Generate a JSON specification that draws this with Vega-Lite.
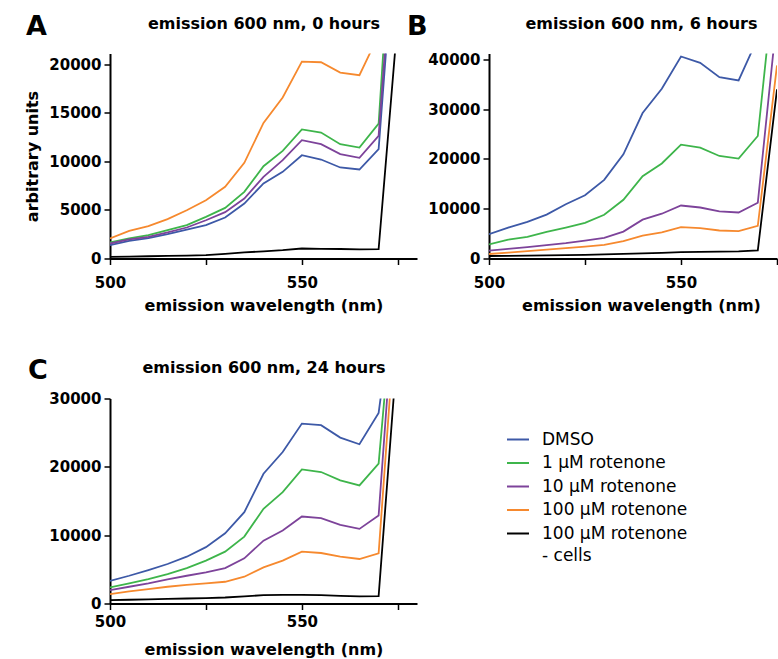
{
  "$schema": "https://vega.github.io/schema/vega-lite/v6.json",
  "padding": {"left": 24, "top": 12.5, "right": 0, "bottom": 0},
  "bounds": "flush",
  "columns": 2,
  "spacing": {"row": 140, "column": 72},
  "datasets": {
    "d": [
      {"p": "A", "wl": 500, "DMSO": 1370, "r1": 1650, "r10": 1540, "r100": 2060, "cells": 170},
      {"p": "A", "wl": 505, "DMSO": 1820, "r1": 2060, "r10": 1960, "r100": 2850, "cells": 200},
      {"p": "A", "wl": 510, "DMSO": 2090, "r1": 2400, "r10": 2230, "r100": 3330, "cells": 230},
      {"p": "A", "wl": 515, "DMSO": 2500, "r1": 2920, "r10": 2680, "r100": 4050, "cells": 260},
      {"p": "A", "wl": 520, "DMSO": 2980, "r1": 3430, "r10": 3190, "r100": 4970, "cells": 300},
      {"p": "A", "wl": 525, "DMSO": 3430, "r1": 4290, "r10": 3940, "r100": 6000, "cells": 340},
      {"p": "A", "wl": 530, "DMSO": 4220, "r1": 5210, "r10": 4770, "r100": 7380, "cells": 480},
      {"p": "A", "wl": 535, "DMSO": 5660, "r1": 6860, "r10": 6170, "r100": 9850, "cells": 620},
      {"p": "A", "wl": 540, "DMSO": 7720, "r1": 9500, "r10": 8400, "r100": 13960, "cells": 740},
      {"p": "A", "wl": 545, "DMSO": 8920, "r1": 11080, "r10": 10120, "r100": 16570, "cells": 860},
      {"p": "A", "wl": 550, "DMSO": 10630, "r1": 13280, "r10": 12180, "r100": 20270, "cells": 1030},
      {"p": "A", "wl": 555, "DMSO": 10190, "r1": 12970, "r10": 11770, "r100": 20200, "cells": 1000},
      {"p": "A", "wl": 560, "DMSO": 9370, "r1": 11770, "r10": 10740, "r100": 19140, "cells": 980},
      {"p": "A", "wl": 565, "DMSO": 9160, "r1": 11420, "r10": 10360, "r100": 18870, "cells": 930},
      {"p": "A", "wl": 570, "DMSO": 11250, "r1": 13890, "r10": 12620, "r100": 23000, "cells": 960},
      {"p": "A", "wl": 575, "DMSO": 37300, "r1": 44300, "r10": 39300, "r100": 60000, "cells": 24700},
      {"p": "B", "wl": 500, "DMSO": 4880, "r1": 2850, "r10": 1580, "r100": 900, "cells": 500},
      {"p": "B", "wl": 505, "DMSO": 6220, "r1": 3810, "r10": 1950, "r100": 1200, "cells": 540},
      {"p": "B", "wl": 510, "DMSO": 7360, "r1": 4350, "r10": 2300, "r100": 1500, "cells": 580},
      {"p": "B", "wl": 515, "DMSO": 8830, "r1": 5350, "r10": 2700, "r100": 1800, "cells": 620},
      {"p": "B", "wl": 520, "DMSO": 10900, "r1": 6220, "r10": 3100, "r100": 2100, "cells": 680},
      {"p": "B", "wl": 525, "DMSO": 12700, "r1": 7150, "r10": 3600, "r100": 2400, "cells": 740},
      {"p": "B", "wl": 530, "DMSO": 15800, "r1": 8800, "r10": 4150, "r100": 2750, "cells": 820},
      {"p": "B", "wl": 535, "DMSO": 20940, "r1": 11800, "r10": 5400, "r100": 3480, "cells": 920},
      {"p": "B", "wl": 540, "DMSO": 29230, "r1": 16550, "r10": 7800, "r100": 4620, "cells": 1050},
      {"p": "B", "wl": 545, "DMSO": 34110, "r1": 19100, "r10": 9000, "r100": 5230, "cells": 1150},
      {"p": "B", "wl": 550, "DMSO": 40600, "r1": 22880, "r10": 10650, "r100": 6300, "cells": 1300},
      {"p": "B", "wl": 555, "DMSO": 39330, "r1": 22270, "r10": 10250, "r100": 6100, "cells": 1350},
      {"p": "B", "wl": 560, "DMSO": 36450, "r1": 20600, "r10": 9450, "r100": 5630, "cells": 1400},
      {"p": "B", "wl": 565, "DMSO": 35790, "r1": 20070, "r10": 9250, "r100": 5500, "cells": 1450},
      {"p": "B", "wl": 570, "DMSO": 44300, "r1": 24620, "r10": 11200, "r100": 6570, "cells": 1650},
      {"p": "B", "wl": 575, "DMSO": 80000, "r1": 61400, "r10": 48700, "r100": 38800, "cells": 34000},
      {"p": "C", "wl": 500, "DMSO": 3300, "r1": 2350, "r10": 1960, "r100": 1370, "cells": 490},
      {"p": "C", "wl": 505, "DMSO": 4060, "r1": 2940, "r10": 2450, "r100": 1760, "cells": 550},
      {"p": "C", "wl": 510, "DMSO": 4890, "r1": 3570, "r10": 2940, "r100": 2100, "cells": 610},
      {"p": "C", "wl": 515, "DMSO": 5780, "r1": 4310, "r10": 3520, "r100": 2450, "cells": 670},
      {"p": "C", "wl": 520, "DMSO": 6850, "r1": 5190, "r10": 4060, "r100": 2740, "cells": 730},
      {"p": "C", "wl": 525, "DMSO": 8250, "r1": 6270, "r10": 4550, "r100": 2940, "cells": 800},
      {"p": "C", "wl": 530, "DMSO": 10280, "r1": 7590, "r10": 5190, "r100": 3180, "cells": 880},
      {"p": "C", "wl": 535, "DMSO": 13360, "r1": 9790, "r10": 6610, "r100": 3920, "cells": 1050},
      {"p": "C", "wl": 540, "DMSO": 18990, "r1": 13850, "r10": 9200, "r100": 5290, "cells": 1220},
      {"p": "C", "wl": 545, "DMSO": 22170, "r1": 16300, "r10": 10670, "r100": 6270, "cells": 1250},
      {"p": "C", "wl": 550, "DMSO": 26330, "r1": 19630, "r10": 12730, "r100": 7590, "cells": 1270},
      {"p": "C", "wl": 555, "DMSO": 26090, "r1": 19240, "r10": 12480, "r100": 7390, "cells": 1220},
      {"p": "C", "wl": 560, "DMSO": 24280, "r1": 18010, "r10": 11500, "r100": 6850, "cells": 1130},
      {"p": "C", "wl": 565, "DMSO": 23300, "r1": 17280, "r10": 10920, "r100": 6510, "cells": 1030},
      {"p": "C", "wl": 570, "DMSO": 27900, "r1": 20460, "r10": 12870, "r100": 7340, "cells": 1080},
      {"p": "C", "wl": 575, "DMSO": 48900, "r1": 52300, "r10": 51800, "r100": 46400, "cells": 38160}
    ]
  },
  "concat": [
    {
      "width": 307, "height": 205,
      "title": {"text": "A", "anchor": "start", "frame": "group", "fontSize": 27, "dx": -84, "offset": -25},
      "data": {"name": "d"},
      "transform": [{"filter": "datum.p == 'A'"}, {"fold": ["DMSO", "r1", "r10", "r100", "cells"], "as": ["series", "v"]}],
      "layer": [
        {
          "mark": {"type": "line", "clip": true, "strokeWidth": 1.8},
          "encoding": {
            "x": {"field": "wl", "type": "quantitative", "scale": {"domain": [500, 580], "nice": false, "zero": false},
                  "axis": {"values": [500, 525, 550, 575], "format": "d", "labelExpr": "datum.value % 50 == 0 ? datum.label : ''", "title": "emission wavelength (nm)", "labelPadding": 11, "titlePadding": 7}},
            "y": {"field": "v", "type": "quantitative", "scale": {"domain": [0, 21100], "nice": false},
                  "axis": {"values": [0, 5000, 10000, 15000, 20000], "format": "d", "title": "arbitrary units"}},
            "color": {"field": "series", "type": "nominal",
                      "scale": {"domain": ["DMSO", "r1", "r10", "r100", "cells"], "range": ["#3d59a7", "#3eb54b", "#7d439a", "#f6892e", "#000000"]},
                      "legend": {"orient": "none", "legendX": 396, "legendY": 374, "title": null,
                                 "encode": {"labels": {"update": {"lineHeight": {"value": 22}}}},
                                 "labelExpr": "datum.value == 'DMSO' ? 'DMSO' : datum.value == 'r1' ? '1 µM rotenone' : datum.value == 'r10' ? '10 µM rotenone' : datum.value == 'r100' ? '100 µM rotenone' : ['100 µM rotenone', '- cells']"}}
          }
        },
        {
          "mark": {"type": "line", "clip": true, "strokeOpacity": 0},
          "encoding": {
            "x": {"field": "wl", "type": "quantitative", "axis": {"orient": "top", "domain": false, "ticks": false, "labels": false, "title": "emission 600 nm, 0 hours", "titlePadding": 22, "titleFontSize": 16}},
            "y": {"field": "v", "type": "quantitative"}
          }
        }
      ],
      "resolve": {"axis": {"x": "independent"}}
    },
    {
      "width": 288, "height": 205,
      "title": {"text": "B", "anchor": "start", "frame": "group", "fontSize": 27, "dx": -82, "offset": -25},
      "data": {"name": "d"},
      "transform": [{"filter": "datum.p == 'B'"}, {"fold": ["DMSO", "r1", "r10", "r100", "cells"], "as": ["series", "v"]}],
      "layer": [
        {
          "mark": {"type": "line", "clip": true, "strokeWidth": 1.8},
          "encoding": {
            "x": {"field": "wl", "type": "quantitative", "scale": {"domain": [500, 575], "nice": false, "zero": false},
                  "axis": {"values": [500, 525, 550, 575], "format": "d", "labelExpr": "datum.value % 50 == 0 ? datum.label : ''", "title": "emission wavelength (nm)", "titleX": 152, "labelPadding": 11, "titlePadding": 7}},
            "y": {"field": "v", "type": "quantitative", "scale": {"domain": [0, 41200], "nice": false},
                  "axis": {"values": [0, 10000, 20000, 30000, 40000], "format": "d", "title": null}},
            "color": {"field": "series", "type": "nominal",
                      "scale": {"domain": ["DMSO", "r1", "r10", "r100", "cells"], "range": ["#3d59a7", "#3eb54b", "#7d439a", "#f6892e", "#000000"]},
                      "legend": {"orient": "none", "legendX": 396, "legendY": 374, "title": null,
                                 "encode": {"labels": {"update": {"lineHeight": {"value": 22}}}},
                                 "labelExpr": "datum.value == 'DMSO' ? 'DMSO' : datum.value == 'r1' ? '1 µM rotenone' : datum.value == 'r10' ? '10 µM rotenone' : datum.value == 'r100' ? '100 µM rotenone' : ['100 µM rotenone', '- cells']"}}
          }
        },
        {
          "mark": {"type": "line", "clip": true, "strokeOpacity": 0},
          "encoding": {
            "x": {"field": "wl", "type": "quantitative", "axis": {"orient": "top", "domain": false, "ticks": false, "labels": false, "title": "emission 600 nm, 6 hours", "titlePadding": 22, "titleFontSize": 16, "titleX": 152}},
            "y": {"field": "v", "type": "quantitative"}
          }
        }
      ],
      "resolve": {"axis": {"x": "independent"}}
    },
    {
      "width": 307, "height": 205,
      "title": {"text": "C", "anchor": "start", "frame": "group", "fontSize": 27, "dx": -82, "offset": -25},
      "data": {"name": "d"},
      "transform": [{"filter": "datum.p == 'C'"}, {"fold": ["DMSO", "r1", "r10", "r100", "cells"], "as": ["series", "v"]}],
      "layer": [
        {
          "mark": {"type": "line", "clip": true, "strokeWidth": 1.8},
          "encoding": {
            "x": {"field": "wl", "type": "quantitative", "scale": {"domain": [500, 580], "nice": false, "zero": false},
                  "axis": {"values": [500, 525, 550, 575], "format": "d", "labelExpr": "datum.value % 50 == 0 ? datum.label : ''", "title": "emission wavelength (nm)", "labelPadding": 5, "titlePadding": 12}},
            "y": {"field": "v", "type": "quantitative", "scale": {"domain": [0, 30000], "nice": false},
                  "axis": {"values": [0, 5000, 10000, 15000, 20000, 25000, 30000], "format": "d", "labelExpr": "datum.value % 10000 == 0 ? datum.label : ''", "title": null}},
            "color": {"field": "series", "type": "nominal",
                      "scale": {"domain": ["DMSO", "r1", "r10", "r100", "cells"], "range": ["#3d59a7", "#3eb54b", "#7d439a", "#f6892e", "#000000"]},
                      "legend": {"orient": "none", "legendX": 396, "legendY": 374, "title": null,
                                 "encode": {"labels": {"update": {"lineHeight": {"value": 22}}}},
                                 "labelExpr": "datum.value == 'DMSO' ? 'DMSO' : datum.value == 'r1' ? '1 µM rotenone' : datum.value == 'r10' ? '10 µM rotenone' : datum.value == 'r100' ? '100 µM rotenone' : ['100 µM rotenone', '- cells']"}}
          }
        },
        {
          "mark": {"type": "line", "clip": true, "strokeOpacity": 0},
          "encoding": {
            "x": {"field": "wl", "type": "quantitative", "axis": {"orient": "top", "domain": false, "ticks": false, "labels": false, "title": "emission 600 nm, 24 hours", "titlePadding": 23, "titleFontSize": 16}},
            "y": {"field": "v", "type": "quantitative"}
          }
        }
      ],
      "resolve": {"axis": {"x": "independent"}}
    }
  ],
  "resolve": {"scale": {"color": "shared"}, "legend": {"color": "shared"}},
  "config": {
    "view": {"stroke": null},
    "axis": {"grid": false, "domainColor": "black", "domainWidth": 2, "tickColor": "black", "tickWidth": 1.5, "tickSize": 6,
             "labelFont": "DejaVu Sans", "labelFontWeight": "bold", "labelFontSize": 15, "labelColor": "black", "labelFlush": false,
             "titleFont": "DejaVu Sans", "titleFontWeight": "bold", "titleFontSize": 16, "titleColor": "black"},
    "axisY": {"labelPadding": 3, "titlePadding": 8},
    "title": {"font": "DejaVu Sans", "fontSize": 16, "fontWeight": "bold", "color": "black"},
    "legend": {"symbolType": "stroke", "symbolStrokeWidth": 2, "symbolSize": 484, "labelFont": "DejaVu Sans", "labelFontSize": 17,
               "labelColor": "black", "labelOffset": 12, "rowPadding": 3.5, "labelLimit": 300}
  }
}
